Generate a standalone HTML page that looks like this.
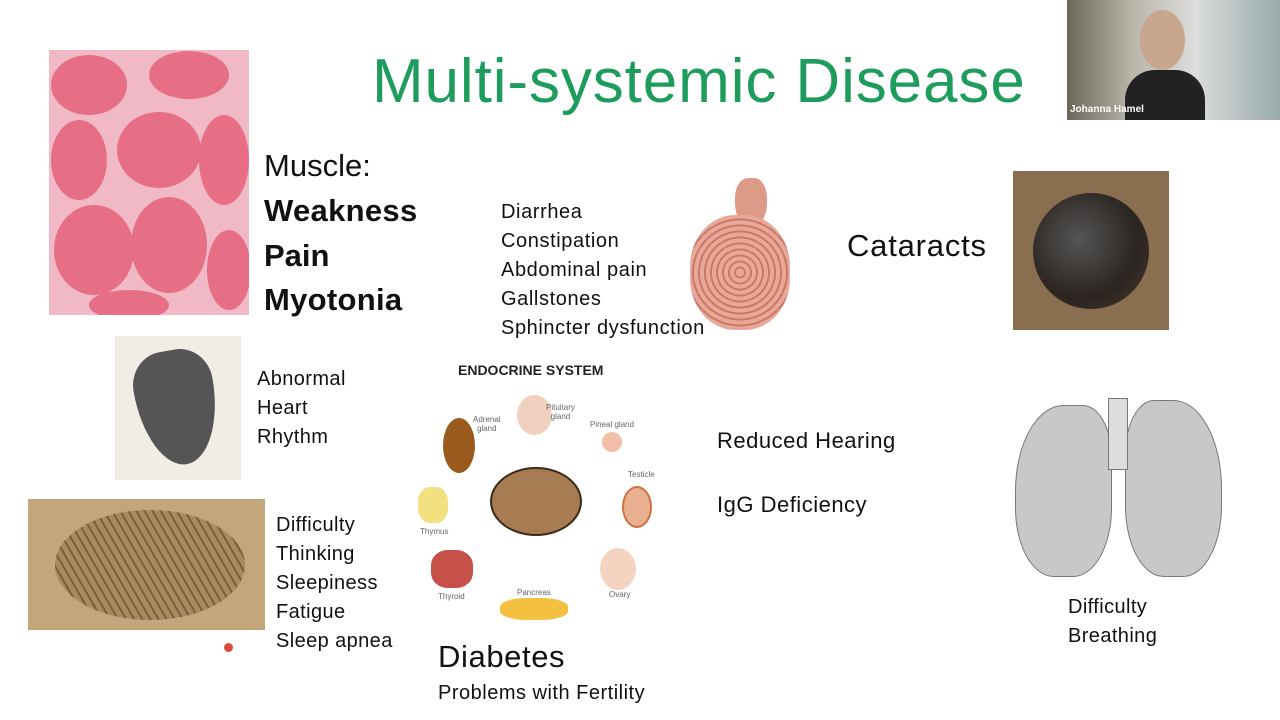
<!DOCTYPE html>
<html><head><meta charset="utf-8"><style>
body{margin:0;width:1280px;height:720px;background:#fff;position:relative;overflow:hidden;font-family:"Liberation Sans",sans-serif;color:#111}
.a{position:absolute}
.t{position:absolute;white-space:nowrap}
.sm{font-size:14px;color:#666;font-family:"Liberation Sans",sans-serif}
</style></head><body>
<div class="t" style="left:372px;top:46px;font-size:62px;color:#1e9c5c;letter-spacing:0.9px">Multi-systemic Disease</div>
<!-- webcam -->
<div class="a" style="left:1067px;top:0;width:213px;height:120px;background:linear-gradient(90deg,#6a6658 0%,#b8b4a8 30%,#ddd 60%,#9aa 100%)"></div>
<div class="a" style="left:1140px;top:10px;width:45px;height:60px;border-radius:50%;background:#c9a78e"></div>
<div class="a" style="left:1125px;top:70px;width:80px;height:50px;border-radius:30px 30px 0 0;background:#222"></div>
<div class="t" style="left:1070px;top:104px;font-size:10px;color:#fff;font-weight:bold">Johanna Hamel</div>
<!-- muscle -->
<div class="a" style="left:49px;top:50px;width:200px;height:265px;background:#f1b8c6"></div>
<svg class="a" style="left:49px;top:50px" width="200" height="265">
<g fill="#e66f86">
<ellipse cx="40" cy="35" rx="38" ry="30"/><ellipse cx="140" cy="25" rx="40" ry="24"/><ellipse cx="30" cy="110" rx="28" ry="40"/><ellipse cx="110" cy="100" rx="42" ry="38"/><ellipse cx="175" cy="110" rx="25" ry="45"/><ellipse cx="45" cy="200" rx="40" ry="45"/><ellipse cx="120" cy="195" rx="38" ry="48"/><ellipse cx="180" cy="220" rx="22" ry="40"/><ellipse cx="80" cy="255" rx="40" ry="15"/></g></svg>
<div class="t" style="left:264px;top:148px;font-size:31px">Muscle:</div>
<div class="t" style="left:264px;top:193px;font-size:31px;font-weight:bold;letter-spacing:0.3px">Weakness</div>
<div class="t" style="left:264px;top:238px;font-size:31px;font-weight:bold">Pain</div>
<div class="t" style="left:264px;top:282px;font-size:31px;font-weight:bold;letter-spacing:0.3px">Myotonia</div>
<div class="t" style="left:501px;top:198px;font-size:20px;line-height:29px;letter-spacing:0.6px">Diarrhea<br>Constipation<br>Abdominal pain<br>Gallstones<br>Sphincter dysfunction</div>
<!-- GI -->
<div class="a" style="left:735px;top:178px;width:32px;height:50px;border-radius:40% 40% 50% 50%;background:#dd9a86"></div>
<div class="a" style="left:690px;top:215px;width:100px;height:115px;border-radius:45%;background:repeating-radial-gradient(circle at 50% 50%,#e8a898 0 4px,#c9786a 4px 6px)"></div>
<div class="t" style="left:847px;top:228px;font-size:31px;letter-spacing:0.8px">Cataracts</div>
<div class="a" style="left:1013px;top:171px;width:156px;height:159px;background:#8a6e50"></div>
<div class="a" style="left:1033px;top:193px;width:116px;height:116px;border-radius:50%;background:radial-gradient(circle at 40% 40%,#555 0,#2b2420 60%,#4a3c2e 100%)"></div>
<!-- heart -->
<div class="a" style="left:115px;top:336px;width:126px;height:144px;background:#f1ede4"></div>
<div class="a" style="left:137px;top:350px;width:80px;height:115px;border-radius:40% 40% 50% 50%/30% 30% 70% 70%;background:#555;transform:rotate(-10deg)"></div>
<div class="t" style="left:257px;top:365px;font-size:20px;line-height:29px;letter-spacing:0.4px">Abnormal<br>Heart<br>Rhythm</div>
<!-- endocrine -->
<div class="t" style="left:458px;top:362px;font-size:14px;font-weight:bold;color:#222">ENDOCRINE SYSTEM</div>
<div class="a" style="left:490px;top:467px;width:88px;height:65px;border-radius:50%;background:#a77c52;border:2px solid #3a2a18"></div>
<div class="a" style="left:443px;top:418px;width:32px;height:55px;border-radius:50%;background:#9a5a1e"></div>
<div class="a" style="left:517px;top:395px;width:35px;height:40px;border-radius:50%;background:#f2d0c0"></div>
<div class="a" style="left:602px;top:432px;width:20px;height:20px;border-radius:50%;background:#f2c0a8"></div>
<div class="a" style="left:622px;top:486px;width:26px;height:38px;border-radius:50%;background:#e8b090;border:2px solid #d07040"></div>
<div class="a" style="left:418px;top:487px;width:30px;height:36px;border-radius:40%;background:#f3e080"></div>
<div class="a" style="left:431px;top:550px;width:42px;height:38px;border-radius:40%;background:#c8504a"></div>
<div class="a" style="left:500px;top:598px;width:68px;height:22px;border-radius:40%;background:#f4c040"></div>
<div class="a" style="left:600px;top:548px;width:36px;height:42px;border-radius:50%;background:#f4d4c0"></div>
<div class="t sm" style="left:473px;top:415px;font-size:8px;line-height:9px;text-align:center">Adrenal<br>gland</div>
<div class="t sm" style="left:546px;top:403px;font-size:8px;line-height:9px;text-align:center">Pituitary<br>gland</div>
<div class="t sm" style="left:590px;top:420px;font-size:8px">Pineal gland</div>
<div class="t sm" style="left:628px;top:470px;font-size:8px">Testicle</div>
<div class="t sm" style="left:420px;top:527px;font-size:8px">Thymus</div>
<div class="t sm" style="left:438px;top:592px;font-size:8px">Thyroid</div>
<div class="t sm" style="left:517px;top:588px;font-size:8px">Pancreas</div>
<div class="t sm" style="left:609px;top:590px;font-size:8px">Ovary</div>
<div class="t" style="left:717px;top:428px;font-size:22px;letter-spacing:0.5px">Reduced Hearing</div>
<div class="t" style="left:717px;top:492px;font-size:22px;letter-spacing:0.5px">IgG Deficiency</div>
<!-- lungs -->
<div class="a" style="left:1015px;top:405px;width:95px;height:170px;border-radius:50% 30% 40% 40%;background:#c8c8c8;border:1px solid #777"></div>
<div class="a" style="left:1125px;top:400px;width:95px;height:175px;border-radius:30% 50% 40% 40%;background:#c8c8c8;border:1px solid #777"></div>
<div class="a" style="left:1108px;top:398px;width:18px;height:70px;background:#ddd;border:1px solid #777"></div>
<div class="t" style="left:1068px;top:593px;font-size:20px;line-height:29px;letter-spacing:0.4px">Difficulty<br>Breathing</div>
<!-- brain -->
<div class="a" style="left:28px;top:499px;width:237px;height:131px;background:#c4a67c"></div>
<div class="a" style="left:55px;top:510px;width:190px;height:110px;border-radius:50%;background:repeating-linear-gradient(60deg,#a88960 0 5px,#7a5e3c 5px 7px)"></div>
<div class="t" style="left:276px;top:511px;font-size:20px;line-height:29px;letter-spacing:0.4px">Difficulty<br>Thinking<br>Sleepiness<br>Fatigue<br>Sleep apnea</div>
<div class="a" style="left:224px;top:643px;width:9px;height:9px;border-radius:50%;background:#e04a3a"></div>
<div class="t" style="left:438px;top:639px;font-size:31px;letter-spacing:0.6px">Diabetes</div>
<div class="t" style="left:438px;top:682px;font-size:20px;letter-spacing:0.5px">Problems with Fertility</div>
</body></html>
